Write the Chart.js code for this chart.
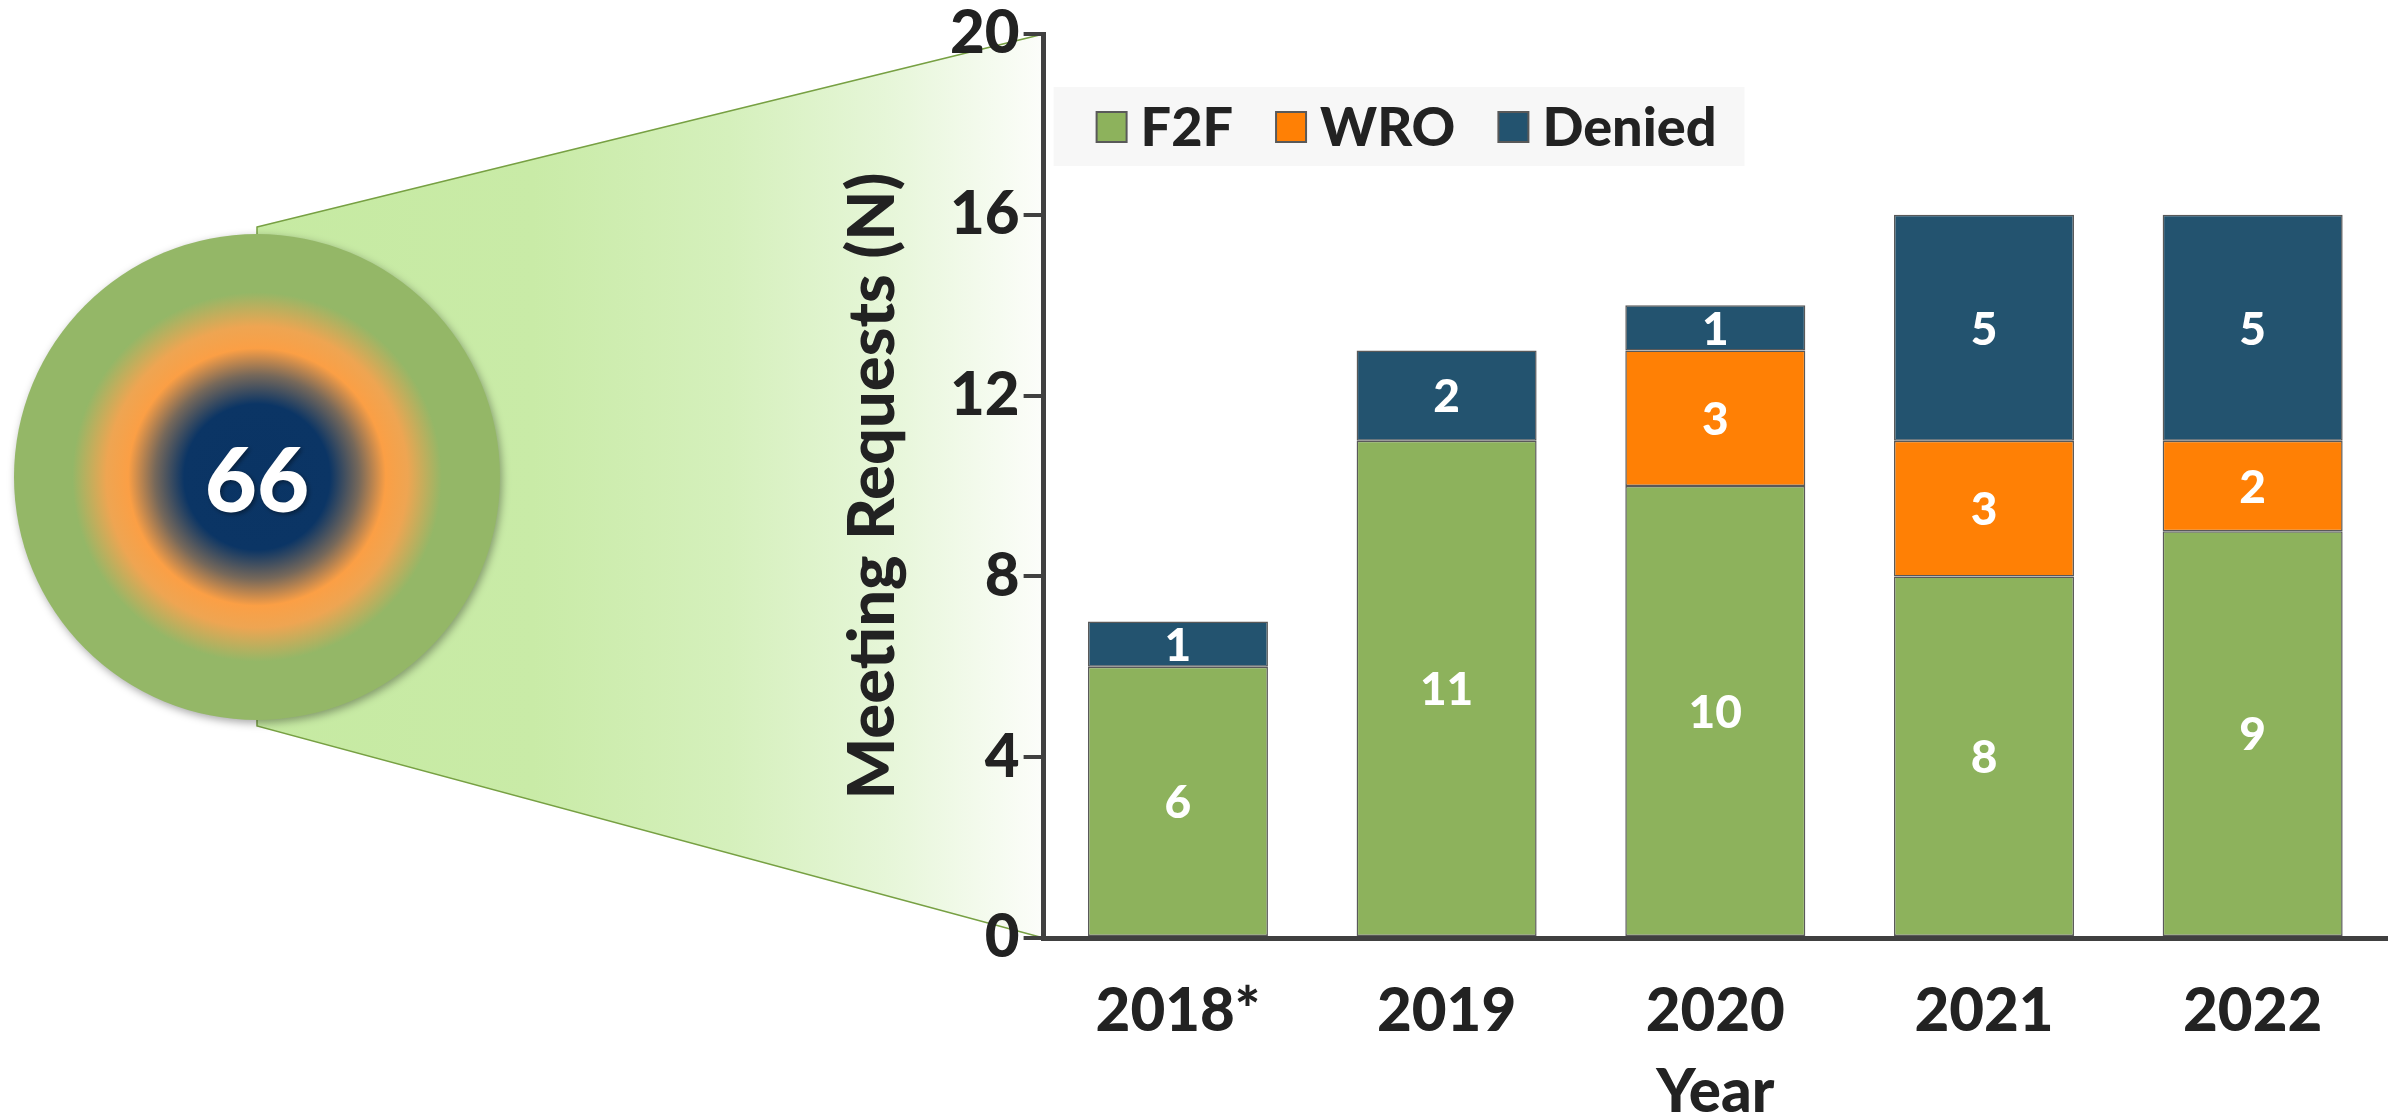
<!DOCTYPE html>
<html>
<head>
<meta charset="utf-8">
<script src="https://cdn.jsdelivr.net/npm/chart.js@4.4.1/dist/chart.umd.min.js"></script>
<style>
  html, body { margin: 0; padding: 0; background: #fff; }
  canvas { display: block; }
</style>
</head>
<body>
<canvas id="meetingChart" width="2394" height="1120"></canvas>
<script>
  // -----------------------------
  // data
  // -----------------------------
  const years = ["2018*", "2019", "2020", "2021", "2022"];
  const f2f = [6, 11, 10, 8, 9];
  const wro = [0, 0, 3, 3, 2];
  const denied = [1, 2, 1, 5, 5];
  const yTicks = [0, 4, 8, 12, 16, 20];

  const FONT = "Lato, 'Open Sans', sans-serif";
  const WEIGHT = "900";
  const DARK = "#222222";
  const AXIS = "#404040";

  const total = [...f2f, ...wro, ...denied].reduce((a, b) => a + b, 0);

  // -----------------------------
  // circle + funnel behind the chart
  // -----------------------------
  const decorPlugin = {
    id: "decor",
    beforeDraw(chart) {
      const ctx = chart.ctx;
      const y = chart.scales.y;
      const axisX = chart.chartArea.left;
      const topY = y.getPixelForValue(20);
      const botY = y.getPixelForValue(0);
      const cx = 257, cy = 477, r = 243;

      ctx.save();
      // funnel
      const lg = ctx.createLinearGradient(cx, 0, axisX, 0);
      lg.addColorStop(0, "#c6eaa2");
      lg.addColorStop(0.35, "#c9eba7");
      lg.addColorStop(0.6, "#d5f0bc");
      lg.addColorStop(0.8, "#e6f6d8");
      lg.addColorStop(1, "#fcfdfa");
      ctx.beginPath();
      ctx.moveTo(cx, cy - 250);
      ctx.lineTo(axisX, topY);
      ctx.lineTo(axisX, botY);
      ctx.lineTo(cx, cy + 249);
      ctx.closePath();
      ctx.fillStyle = lg;
      ctx.fill();
      ctx.strokeStyle = "#77a043";
      ctx.lineWidth = 1.5;
      ctx.stroke();

      // circle
      const rg = ctx.createRadialGradient(cx, cy, 0, cx, cy, r);
      rg.addColorStop(0, "#0a3464");
      rg.addColorStop(0.3, "#0b3565");
      rg.addColorStop(0.42, "#76685a");
      rg.addColorStop(0.53, "#fb9f45");
      rg.addColorStop(0.62, "#eea552");
      rg.addColorStop(0.76, "#94b767");
      rg.addColorStop(1, "#94b767");
      ctx.shadowColor = "rgba(0,0,0,0.35)";
      ctx.shadowBlur = 8;
      ctx.shadowOffsetX = 2;
      ctx.shadowOffsetY = 3;
      ctx.beginPath();
      ctx.arc(cx, cy, r, 0, Math.PI * 2);
      ctx.fillStyle = rg;
      ctx.fill();
      ctx.shadowColor = "rgba(0,0,0,0.4)";
      ctx.shadowBlur = 4;
      ctx.shadowOffsetX = 2;
      ctx.shadowOffsetY = 2;
      ctx.fillStyle = "#ffffff";
      ctx.font = WEIGHT + " 90px " + FONT;
      ctx.textAlign = "center";
      ctx.textBaseline = "middle";
      ctx.fillText(String(total), cx, cy + 6);
      ctx.restore();
    }
  };

  // -----------------------------
  // legend in one row inside the plot, grey background
  // -----------------------------
  const rowLegend = {
    id: "rowLegend",
    afterDraw(chart) {
      const ctx = chart.ctx;
      const axisX = chart.chartArea.left;
      const midY = 127;
      const box = 30;
      ctx.save();
      ctx.font = WEIGHT + " 54px " + FONT;
      ctx.textBaseline = "middle";
      ctx.textAlign = "left";

      // measure first for the background
      let x = axisX + 53;
      const items = chart.data.datasets.map(ds => {
        const item = { ds, boxX: x, textX: x + box + 14 };
        x = item.textX + ctx.measureText(ds.label).width + 43;
        return item;
      });
      const right = x - 43 + 28;
      ctx.fillStyle = "#f7f7f7";
      ctx.fillRect(axisX + 10, midY - 40, right - axisX - 10, 79);

      items.forEach(it => {
        ctx.fillStyle = it.ds.backgroundColor;
        ctx.fillRect(it.boxX, midY - box / 2, box, box);
        ctx.strokeStyle = it.ds.borderColor;
        ctx.lineWidth = 2;
        ctx.strokeRect(it.boxX, midY - box / 2, box, box);
        ctx.fillStyle = DARK;
        ctx.fillText(it.ds.label, it.textX, midY + 2);
      });
      ctx.restore();
    }
  };

  // -----------------------------
  // value labels in the segments
  // -----------------------------
  const valueLabels = {
    id: "valueLabels",
    afterDatasetsDraw(chart) {
      const ctx = chart.ctx;
      ctx.save();
      ctx.fillStyle = "#ffffff";
      ctx.font = WEIGHT + " 46px " + FONT;
      ctx.textAlign = "center";
      ctx.textBaseline = "middle";
      chart.data.datasets.forEach((ds, i) => {
        const meta = chart.getDatasetMeta(i);
        meta.data.forEach((bar, j) => {
          const v = ds.data[j];
          if (!v) return;
          ctx.fillText(String(v), bar.x, (bar.y + bar.base) / 2 + 2);
        });
      });
      ctx.restore();
    }
  };

  const barStyle = {
    borderColor: "#595959",
    borderWidth: 1.5,
    borderSkipped: false,
    categoryPercentage: 1,
    barPercentage: 0.67
  };

  new Chart(document.getElementById("meetingChart"), {
    type: "bar",
    data: {
      labels: years,
      datasets: [
        { label: "F2F", data: f2f, backgroundColor: "#8db25c", ...barStyle },
        { label: "WRO", data: wro, backgroundColor: "#ff8005", ...barStyle },
        { label: "Denied", data: denied, backgroundColor: "#23536f", ...barStyle }
      ]
    },
    options: {
      responsive: false,
      devicePixelRatio: 1,
      animation: false,
      layout: { padding: { left: 834, right: 7, top: 34, bottom: 0 } },
      plugins: {
        legend: { display: false },
        tooltip: { enabled: false }
      },
      scales: {
        x: {
          stacked: true,
          grid: { display: false, drawTicks: false },
          border: { display: true, color: AXIS, width: 5 },
          ticks: {
            color: DARK,
            padding: 44,
            font: { family: FONT, size: 60, weight: WEIGHT, lineHeight: 1 }
          },
          title: {
            display: true,
            text: "Year",
            color: DARK,
            padding: { top: -20, bottom: 0 },
            font: { family: FONT, size: 60, weight: WEIGHT, lineHeight: 0.9 }
          }
        },
        y: {
          stacked: true,
          min: 0,
          max: 20,
          afterBuildTicks(scale) {
            scale.ticks = yTicks.map(v => ({ value: v }));
          },
          grid: {
            drawOnChartArea: false,
            drawTicks: true,
            tickLength: 20,
            color: AXIS,
            lineWidth: 4
          },
          border: { display: true, color: AXIS, width: 5 },
          ticks: {
            color: DARK,
            padding: 4,
            font: { family: FONT, size: 60, weight: WEIGHT, lineHeight: 1 }
          },
          title: {
            display: true,
            text: "Meeting Requests (N)",
            color: DARK,
            padding: { top: 0, bottom: 34 },
            font: { family: FONT, size: 65, weight: WEIGHT, lineHeight: 1.2 }
          }
        }
      }
    },
    plugins: [decorPlugin, valueLabels, rowLegend]
  });
</script>
</body>
</html>
